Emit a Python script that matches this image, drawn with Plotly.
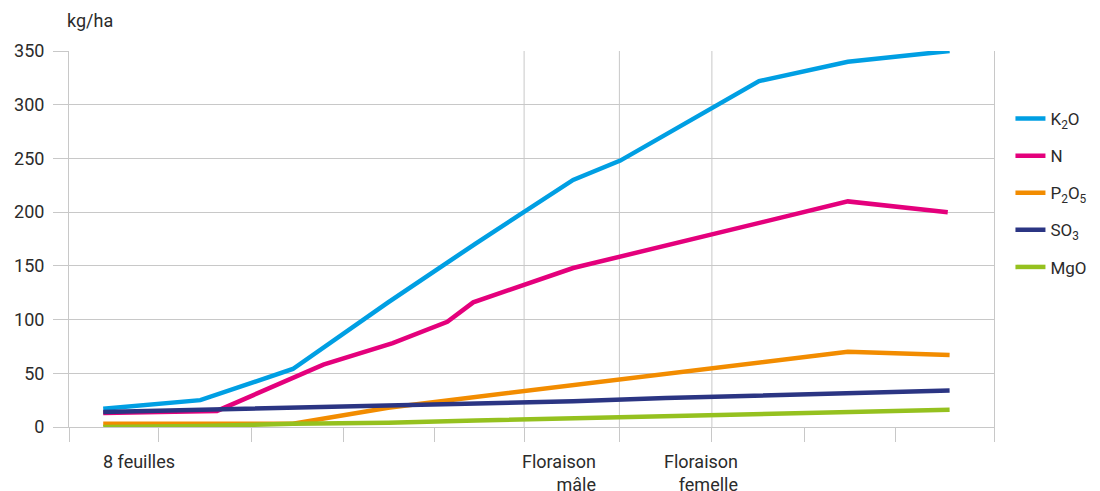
import plotly.graph_objects as go

# ---- data (x in growth-stage units, values in kg/ha) ----
x_common = [0.37, 1.42, 2.42, 3.45, 4.4, 5.45, 6.45, 7.46, 8.42, 9.52]
k2o_x = [0.37, 1.42, 2.42, 3.45, 4.4, 5.45, 5.96, 7.46, 8.42, 9.52]
k2o = [17, 25, 54, 116, 171, 230, 248, 322, 340, 350]
p2o5 = [3, 3, 3, 18, 28, 39, 50, 60, 70, 67]
so3 = [14, 16, 18, 20, 22, 24, 27, 29, 31, 34]
mgo = [0, 1, 3, 4, 6, 8, 10, 12, 14, 16]
n_x = [0.37, 1.6, 2.75, 3.5, 4.09, 4.37, 5.45, 8.42, 9.5]
n_vals = [13, 15, 58, 78, 98, 116, 148, 210, 200]

series_names = ["K<sub>2</sub>O", "N", "P<sub>2</sub>O<sub>5</sub>", "SO<sub>3</sub>", "MgO"]
series_colors = ["#009fe3", "#e4007c", "#f28c00", "#2b3583", "#95c11f"]

tick_positions = [0, 0.97, 1.97, 2.97, 3.95, 4.92, 5.95, 6.95, 7.95, 8.93, 10]
y_ticks = [0, 50, 100, 150, 200, 250, 300, 350]
stage_grid = [4.92, 5.95, 6.95]
stage_labels = ["8 feuilles", "Floraison<br>mâle", "Floraison<br>femelle"]
stage_label_x = [1.17, 5.72, 7.25]

FONT = "Roboto"
GRID = "#c8c8c8"
TXT = "#2b2b2b"

fig = go.Figure()
data = [(k2o_x, k2o), (n_x, n_vals), (x_common, p2o5), (x_common, so3), (x_common, mgo)]
for i, ((xs, ys), name, col) in enumerate(zip(data, series_names, series_colors)):
    fig.add_trace(go.Scatter(
        x=xs, y=ys, mode="lines", name=name, legendgroup=f"g{i}",
        line=dict(color=col, width=4.5), cliponaxis=False, hoverinfo="skip"))

for gx in stage_grid:
    fig.add_shape(type="line", x0=gx, x1=gx, y0=0, y1=350, xref="x", yref="y",
                  line=dict(color=GRID, width=1), layer="below")

for lx, lt in zip(stage_label_x, stage_labels):
    fig.add_annotation(x=lx, xref="x", y=0, yref="paper", yanchor="top", xanchor="right",
                       align="right", yshift=-22, text=lt, showarrow=False,
                       font=dict(family=FONT, size=18, color=TXT))

fig.add_annotation(x=-0.004, xref="paper", y=1.08, yref="paper", xanchor="left", yanchor="middle",
                   text="kg/ha", showarrow=False, font=dict(family=FONT, size=18, color=TXT))

fig.update_layout(
    width=1092, height=483,
    margin=dict(l=61, r=106, t=43, b=64, autoexpand=False),
    paper_bgcolor="white", plot_bgcolor="white",
    font=dict(family=FONT, size=18, color=TXT),
    showlegend=True,
    legend=dict(xref="container", yref="container", x=0.918, y=0.8075,
                xanchor="left", yanchor="top",
                traceorder="grouped", tracegroupgap=12,
                font=dict(family=FONT, size=17, color=TXT), bgcolor="rgba(0,0,0,0)"),
    xaxis=dict(range=[0, 10], tickvals=tick_positions, showticklabels=False,
               ticks="outside", ticklen=14, tickcolor=GRID, tickwidth=1,
               showline=True, linecolor=GRID, linewidth=1, showgrid=False, zeroline=False),
    yaxis=dict(range=[0, 350], tickvals=y_ticks, ticks="outside", ticklen=15,
               tickcolor=GRID, tickwidth=1, showgrid=True, gridcolor=GRID, gridwidth=1,
               showline=True, linecolor=GRID, linewidth=1, mirror=True, zeroline=False,
               ticklabelstandoff=5, tickfont=dict(family=FONT, size=18, color=TXT)),
)

fig.write_html("out.html")
